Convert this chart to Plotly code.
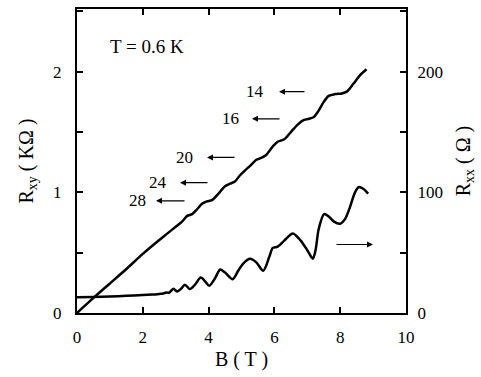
import plotly.graph_objects as go

# Hall resistance R_xy (kOhm) vs B (T)
b_xy = [0, 0.5, 1, 1.5, 2, 2.5, 2.75, 3.0, 3.2, 3.35, 3.5, 3.65, 3.8, 3.95, 4.1, 4.3, 4.5,
        4.65, 4.8, 4.95, 5.1, 5.3, 5.45, 5.6, 5.75, 5.95, 6.1, 6.3, 6.5, 6.7, 6.9, 7.05,
        7.2, 7.35, 7.5, 7.65, 7.85, 8.05, 8.2, 8.4, 8.6, 8.8]
r_xy = [0.0, 0.125, 0.245, 0.365, 0.49, 0.605, 0.66, 0.715, 0.76, 0.805, 0.82, 0.86, 0.905,
        0.925, 0.935, 0.99, 1.05, 1.072, 1.09, 1.14, 1.18, 1.23, 1.27, 1.285, 1.31, 1.38,
        1.42, 1.44, 1.50, 1.56, 1.60, 1.61, 1.625, 1.68, 1.75, 1.80, 1.815, 1.82, 1.835,
        1.90, 1.97, 2.02]

# Longitudinal resistance R_xx (Ohm) vs B (T)
b_xx = [0, 0.5, 1, 1.5, 2, 2.3, 2.5, 2.62, 2.72, 2.8, 2.93, 3.05, 3.16, 3.28, 3.43, 3.6,
        3.76, 3.9, 4.02, 4.2, 4.35, 4.5, 4.73, 4.9, 5.05, 5.26, 5.45, 5.66, 5.85, 5.95,
        6.1, 6.3, 6.56, 6.8, 7.0, 7.17, 7.25, 7.35, 7.51, 7.65, 7.8, 8.0, 8.15, 8.3, 8.45,
        8.57, 8.7, 8.85]
r_xx = [13, 13.3, 13.7, 14.2, 15, 15.3, 15.8, 16.2, 17, 16.8, 20, 17.8, 20, 23.5, 19.8, 24,
        29.4, 26, 22.5, 29, 36, 33.5, 28, 35, 41, 45, 42, 35, 47, 54,
        55, 60, 66, 60, 52, 45, 52, 70, 82, 80, 76, 74, 78, 88, 100,
        104.5, 103, 99]

# filling-factor labels and the plateau levels their arrows point to
nu_labels = ["14", "16", "20", "24", "28"]
nu_levels = [1.835, 1.61, 1.29, 1.08, 0.93]

x_ticks = [0, 2, 4, 6, 8, 10]
y_ticks = [0, 1, 2]
y2_ticks = [0, 100, 200]

FONT = "Liberation Serif, DejaVu Serif, serif"

fig = go.Figure()
fig.add_trace(go.Scatter(x=b_xy, y=r_xy, mode="lines",
                         line=dict(color="black", width=2.5, shape="spline", smoothing=0.8),
                         showlegend=False))
fig.add_trace(go.Scatter(x=b_xx, y=r_xx, mode="lines", yaxis="y2",
                         line=dict(color="black", width=2.5, shape="spline", smoothing=0.8),
                         showlegend=False))

PX0, PXS = 77, 32.9  # plot-left pixel and pixels per tesla (used for annotation placement)

# Arrows with labels (pointing left toward the Rxy axis)
label_px = [255, 230, 184, 158, 137]
tip_px = [279, 252, 207, 180, 156]
tail_px = [306, 281, 236, 209, 186]
for lab, lev, lx, tx, ax in zip(nu_labels, nu_levels, label_px, tip_px, tail_px):
    fig.add_annotation(x=(tx - PX0) / PXS, y=lev, xref="x", yref="y",
                       ax=(ax - PX0) / PXS, ay=lev, axref="x", ayref="y",
                       showarrow=True, arrowhead=2, arrowsize=1, arrowwidth=1.2,
                       arrowcolor="black", text="")
    fig.add_annotation(x=(lx - PX0) / PXS, y=lev, xref="x", yref="y", text=lab,
                       showarrow=False, font=dict(family=FONT, size=17, color="black"))

# Arrow pointing right toward Rxx axis
fig.add_annotation(x=(373 - PX0) / PXS, y=56.8, xref="x", yref="y2",
                   ax=(335 - PX0) / PXS, ay=56.8, axref="x", ayref="y2",
                   showarrow=True, arrowhead=2, arrowsize=1, arrowwidth=1.2,
                   arrowcolor="black", text="")

fig.add_annotation(x=0.95, y=2.21, xref="x", yref="y", text="T = 0.6 K", showarrow=False,
                   xanchor="left", font=dict(family=FONT, size=19, color="black"))

axis_common = dict(showgrid=False, zeroline=False, showline=True, linecolor="black",
                   linewidth=2, ticks="inside", ticklen=6, tickwidth=1.5, tickcolor="black",
                   tickfont=dict(family=FONT, size=17, color="black"))

fig.update_layout(
    width=481, height=377,
    margin=dict(l=77, r=75, t=7, b=64),
    paper_bgcolor="white", plot_bgcolor="white",
    xaxis=dict(range=[0, 10], tickvals=x_ticks, mirror="ticks", ticklabelstandoff=8,
               title=dict(text="B ( T )", font=dict(family=FONT, size=20, color="black"),
                          standoff=6),
               **axis_common),
    yaxis=dict(range=[0, 2.52], tickvals=y_ticks, ticklabelstandoff=10,
               minor=dict(dtick=0.5, ticks="inside", ticklen=6, tickwidth=1.5,
                          tickcolor="black", showgrid=False),
               title=dict(text="R<sub>xy</sub> ( KΩ )",
                          font=dict(family=FONT, size=20, color="black"), standoff=14),
               **axis_common),
    yaxis2=dict(range=[0, 252], tickvals=y2_ticks, overlaying="y", side="right",
                ticklabelstandoff=6,
                minor=dict(dtick=50, ticks="inside", ticklen=6, tickwidth=1.5,
                           tickcolor="black", showgrid=False),
                title=dict(text="R<sub>xx</sub> ( Ω )",
                           font=dict(family=FONT, size=20, color="black"), standoff=14),
                **axis_common),
)

fig.write_html("out.html", config={"displayModeBar": False},
               post_script="document.body.style.margin='0';")
